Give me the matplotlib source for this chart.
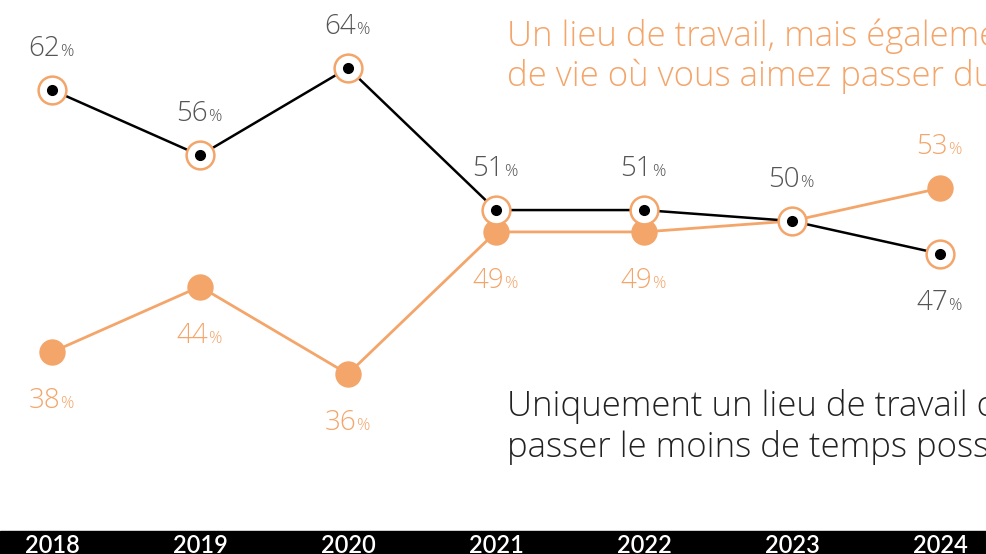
import matplotlib.pyplot as plt
from matplotlib.patches import Rectangle

years = ["2018", "2019", "2020", "2021", "2022", "2023", "2024"]
lieu_de_vie = [38, 44, 36, 49, 49, 50, 53]
lieu_de_travail = [62, 56, 64, 51, 51, 50, 47]

ORANGE = "#F4A56A"
GREY = "#555555"

# label placement: +1 above the point, -1 below, 0 no label
pos_vie = [-1, -1, -1, -1, -1, 0, 1]
pos_travail = [1, 1, 1, 1, 1, 1, -1]


def pct_label(ax, x, y, value, side, color):
    dy = 34 if side > 0 else -56
    ax.annotate(str(value), (x, y), xytext=(8, dy), textcoords="offset pixels",
                ha="right", va="baseline", fontsize=20, color=color,
                family="Open Sans", fontweight="light")
    ax.annotate("%", (x, y), xytext=(8, dy), textcoords="offset pixels",
                ha="left", va="baseline", fontsize=12, color=color,
                family="Open Sans", fontweight="light")


fig = plt.figure(figsize=(9.86, 5.54), dpi=100)
ax = fig.add_axes([0, 0, 1, 1])
ax.set_xlim(-0.351, 6.311)
ax.set_ylim(19.53, 70.22)
ax.axis("off")

xs = list(range(len(years)))

ax.plot(xs, lieu_de_vie, color=ORANGE, lw=2.0, marker="o", markersize=19,
        markeredgewidth=0, zorder=2)
ax.plot(xs, lieu_de_travail, color="black", lw=1.8, marker="o", markersize=20,
        markerfacecolor="white", markeredgecolor=ORANGE, markeredgewidth=1.8,
        zorder=3)
ax.plot(xs, lieu_de_travail, ls="none", marker="o", markersize=7,
        color="black", zorder=4)

for i in xs:
    if pos_vie[i]:
        pct_label(ax, i, lieu_de_vie[i], lieu_de_vie[i], pos_vie[i], ORANGE)
    if pos_travail[i]:
        pct_label(ax, i, lieu_de_travail[i], lieu_de_travail[i], pos_travail[i], GREY)

fig.text(507 / 986, 1 - 18 / 554,
         "Un lieu de travail, mais également un lieu\nde vie où vous aimez passer du temps",
         ha="left", va="top", fontsize=25, color=ORANGE, family="Open Sans",
         fontweight="light", linespacing=1.2)
fig.text(507 / 986, 1 - 389 / 554,
         "Uniquement un lieu de travail où vous souhaitez\npasser le moins de temps possible",
         ha="left", va="top", fontsize=25, color="#222222", family="Open Sans",
         fontweight="light", linespacing=1.2)

# bottom band with years
ax.add_patch(Rectangle((0, 0), 1, 23 / 554, transform=ax.transAxes,
                       color="black", zorder=5, clip_on=False))
for i, yr in enumerate(years):
    ax.text(i, 1 - 534 / 554, yr, transform=ax.get_xaxis_transform(),
            ha="center", va="top", fontsize=17, color="white",
            family="Lato", fontweight="semibold", zorder=6)

fig.savefig("out.png", dpi=100)
